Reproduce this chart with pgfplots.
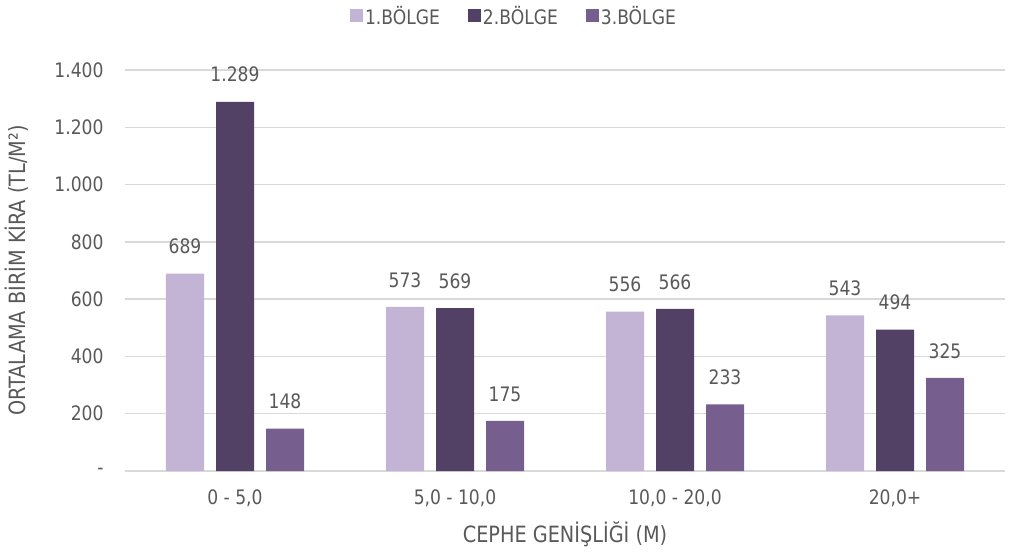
\documentclass[border=0pt]{standalone}
\usepackage{fontspec}
\setmainfont{DejaVu Sans}[FakeStretch=0.86]
\usepackage{pgfplots}
\pgfplotsset{compat=1.18}
\definecolor{bA}{HTML}{C3B3D4}
\definecolor{bB}{HTML}{524164}
\definecolor{bC}{HTML}{765E8F}
\definecolor{txt}{HTML}{595959}
\definecolor{grd}{HTML}{D9D9D9}
\newcommand{\lbl}{\fontsize{20}{24}\selectfont}
\newcommand{\ttl}{\fontsize{22.5}{26}\selectfont}
\begin{document}
\begin{tikzpicture}
\begin{axis}[
  name=ax,
  scale only axis, width=880bp, height=401bp,
  ybar=12bp, bar width=38bp,
  xmin=-0.5, xmax=3.5, ymin=0, ymax=1400,
  xtick={0,1,2,3},
  xticklabels={0 - 5{,}0, 5{,}0 - 10{,}0, 10{,}0 - 20{,}0, 20{,}0+},
  ytick={0,200,...,1400},
  yticklabels={-,200,400,600,800,1.000,1.200,1.400},
  axis x line*=bottom, axis y line*=left,
  x axis line style={grd, line width=1.5pt},
  y axis line style={draw=none},
  major tick length=0pt,
  ymajorgrids, grid style={grd, line width=1.5pt},
  tick label style={font=\lbl, text=txt},
  xticklabel style={yshift=-15bp},
  yticklabel style={xshift=-18bp},
  xlabel={CEPHE GENİŞLİĞİ (M)},
  ylabel={ORTALAMA BİRİM KİRA (TL/M²)},
  label style={font=\ttl, text=txt},
  xlabel style={yshift=-8bp},
  ylabel style={yshift=19bp},
  nodes near coords,
  nodes near coords style={font=\lbl, text=txt, anchor=south, yshift=16bp,
    /pgf/number format/1000 sep={.}, /pgf/number format/assume math mode=true},
  legend style={at={(0.442,1)}, anchor=center, yshift=54bp, draw=none, legend columns=-1,
    font=\lbl, text=txt, inner sep=0pt,
    /tikz/every even column/.append style={column sep=26bp}},
  legend image code/.code={\fill[#1] (0bp,-6.5bp) rectangle (13bp,6.5bp);},
]
\addplot[fill=bA, draw=none] coordinates {(0,689) (1,573) (2,556) (3,543)};
\addplot[fill=bB, draw=none] coordinates {(0,1289) (1,569) (2,566) (3,494)};
\addplot[fill=bC, draw=none] coordinates {(0,148) (1,175) (2,233) (3,325)};
\legend{1.BÖLGE, 2.BÖLGE, 3.BÖLGE}
\end{axis}
\path ([xshift=-125bp,yshift=-83bp]ax.south west) rectangle ([xshift=4bp,yshift=70bp]ax.north east);
\end{tikzpicture}
\end{document}
